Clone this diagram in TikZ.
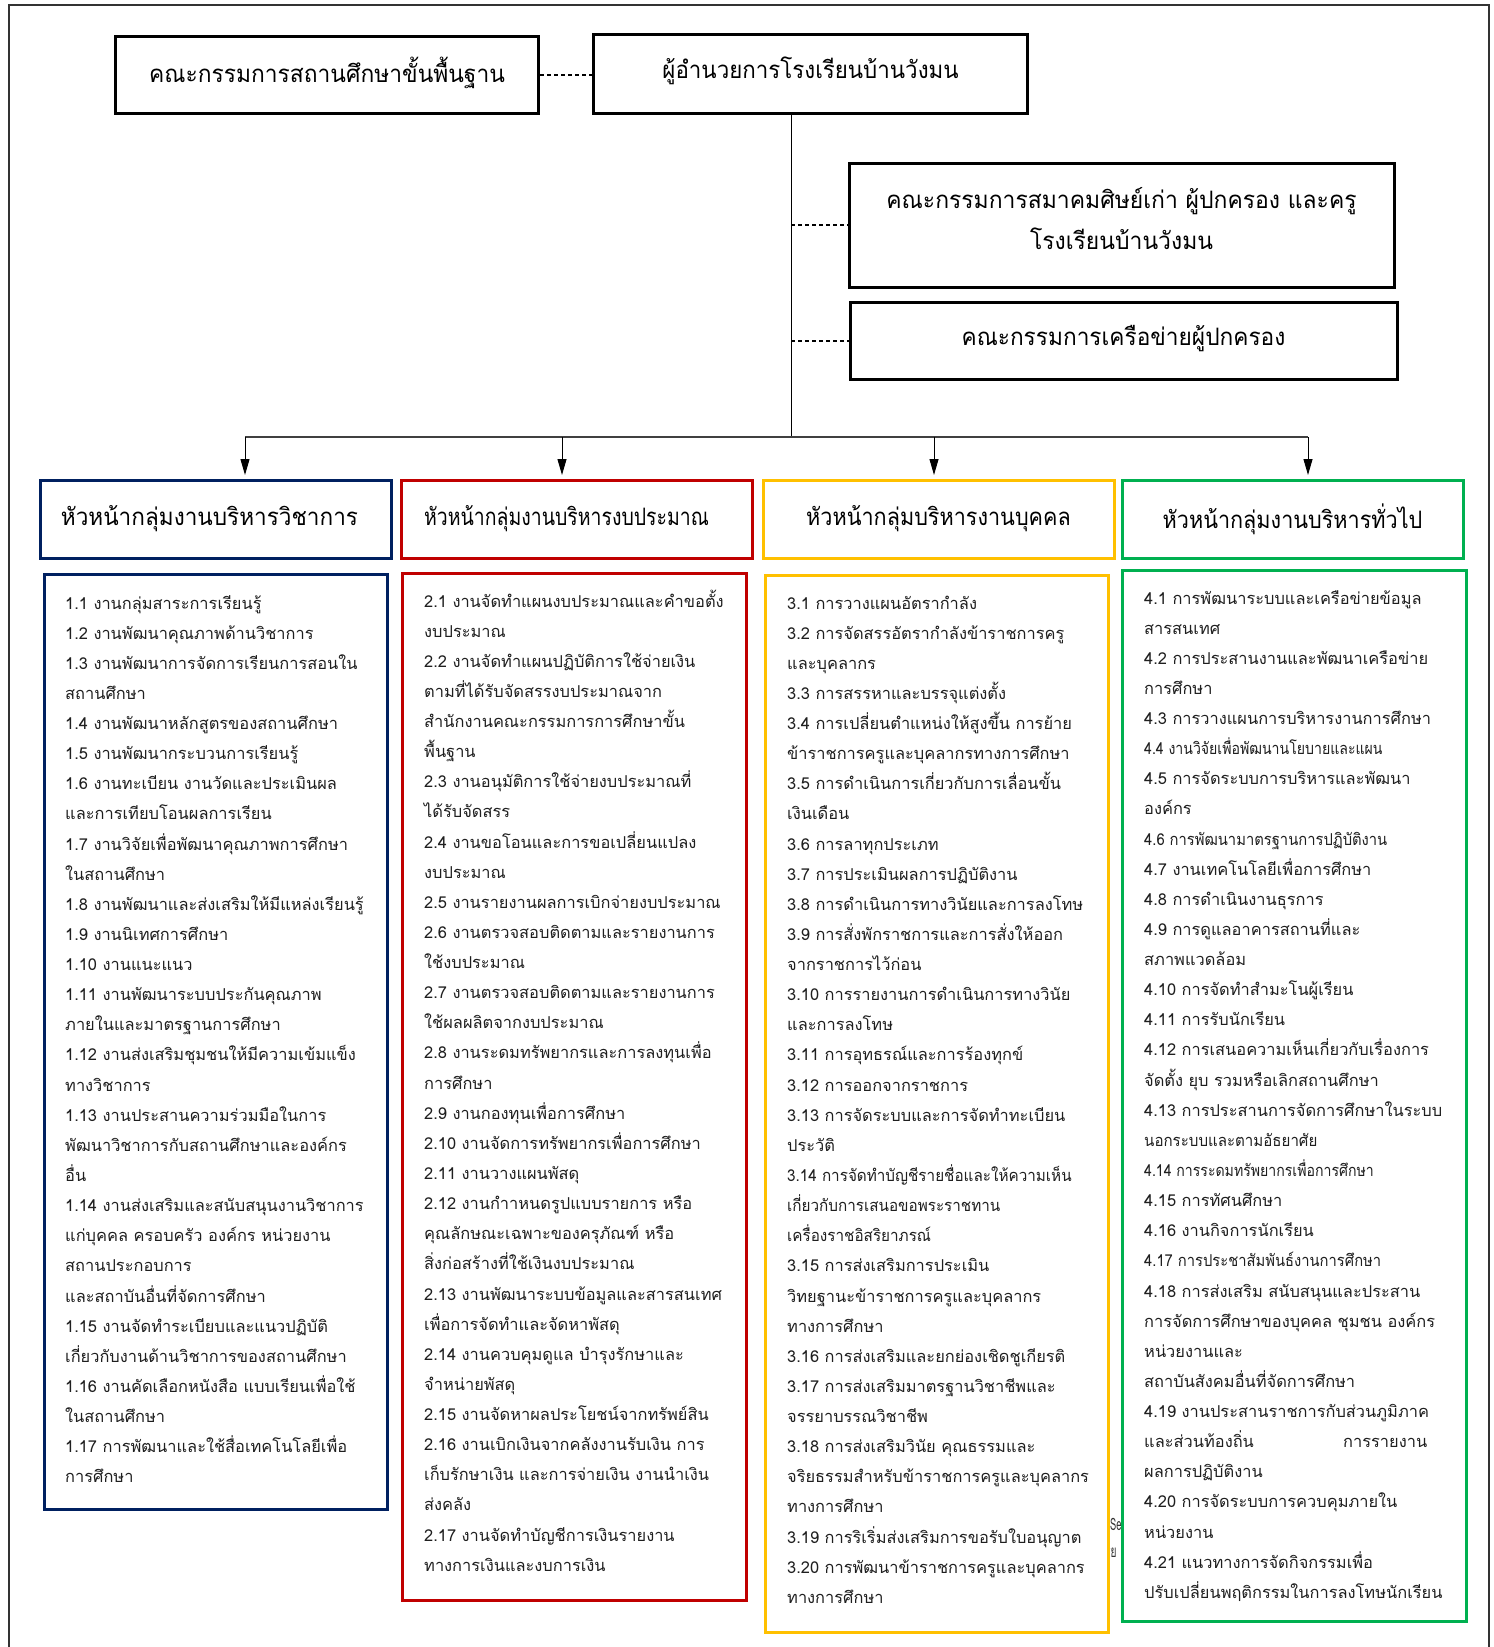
\documentclass[tikz,border=0pt]{standalone}
\usepackage{graphicx}
\usepackage{fontspec}
\newfontfamily\thai[Script=Thai]{Loma}
\usetikzlibrary{arrows.meta}
\definecolor{navy}{HTML}{002060}
\definecolor{redc}{HTML}{C00000}
\definecolor{gold}{HTML}{FFC000}
\definecolor{greenc}{HTML}{00B050}
\newcommand\hs[2]{\scalebox{#1}[1]{#2}}
\newcommand\listcol[4]{\foreach \t [count=\i] in {#4} {\node[item] (#1\i) at (#2,{#3+(\i-1)*30.13}) {\t};}}
\begin{document}
\begin{tikzpicture}[x=1pt,y=-1pt,
  topbox/.style={draw, line width=3pt, inner sep=0},
  toptext/.style={inner sep=0, align=center, font=\thai\fontsize{24}{41}\selectfont},
  hdbox/.style={draw, line width=3pt, inner sep=0, minimum width=351pt, minimum height=78pt, font=\thai\fontsize{24}{30}\selectfont},
  listbox/.style={draw, line width=3pt, inner sep=0, fill=white},
  item/.style={anchor=base west, inner sep=0, font=\thai\fontsize{16.4}{22}\selectfont, text=black!88},
  frag/.style={anchor=base west, inner sep=0, font=\thai\fontsize{17}{22}\selectfont, text=black!80},
  dashline/.style={dash pattern=on 4pt off 3pt, line width=1.3pt},
  arr/.style={-{Triangle[length=16pt,width=9pt]}, line width=1pt, shorten >=3.5pt},
]
\useasboundingbox (0,0) rectangle (1494,1647);
\fill[white] (0,0) rectangle (1494,1647);
\draw[line width=2pt, black!80] (8.5,1647) -- (8.5,5) -- (1489,5) -- (1489,1647);

% top boxes
\node[topbox, minimum width=423pt, minimum height=77pt] (A) at (327,75) {};
\node[toptext] (At) at (327,73) {\hs{0.95}{คณะกรรมการสถานศึกษาขั้นพื้นฐาน}};
\node[topbox, minimum width=434pt, minimum height=79pt] (B) at (810.5,74) {};
\node[toptext] (Bt) at (810.5,71) {\hs{0.93}{ผู้อำนวยการโรงเรียนบ้านวังมน}};
\node[topbox, minimum width=545pt, minimum height=124pt] (C) at (1121.5,225) {};
\node[toptext] (Ct) at (1121.5,219) {\hs{0.955}{คณะกรรมการสมาคมศิษย์เก่า ผู้ปกครอง และครู}\\\hs{0.955}{โรงเรียนบ้านวังมน}};
\node[topbox, minimum width=547pt, minimum height=77pt] (D) at (1123.5,341) {};
\node[toptext] (Dt) at (1123.5,339) {\hs{0.945}{คณะกรรมการเครือข่ายผู้ปกครอง}};

% headers
\node[hdbox, draw=navy] (H1) at (215.5,519) {\hspace*{-12pt}\hs{0.94}{หัวหน้ากลุ่มงานบริหารวิชาการ}};
\node[hdbox, draw=redc] (H2) at (576.5,519) {\hspace*{-20pt}\hs{0.81}{หัวหน้ากลุ่มงานบริหารงบประมาณ}};
\node[hdbox, draw=gold] (H3) at (938.5,519) {\hs{0.90}{หัวหน้ากลุ่มบริหารงานบุคคล}};
\node[hdbox, draw=greenc, minimum width=341pt] (H4) at (1292.5,519) {\hs{0.90}{หัวหน้ากลุ่มงานบริหารทั่วไป}};

% connectors
\coordinate (J) at (791,437);
\coordinate (J1) at (245,437);
\coordinate (J2) at (562,437);
\coordinate (J3) at (934,437);
\coordinate (J4) at (1308,437);
\draw[dashline] (A.east) -- (B.west |- A.east);
\draw[line width=1pt] (B.south -| J) -- (J);
\draw[dashline] (C.west -| J) -- (C.west);
\draw[dashline] (D.west -| J) -- (D.west);
\draw[line width=1.8pt, black!75] (J1) -- (J4);
\draw[arr] (J1) -- (J1 |- H1.north);
\draw[arr] (J2) -- (J2 |- H2.north);
\draw[arr] (J3) -- (J3 |- H3.north);
\draw[arr] (J4) -- (J4 |- H4.north);

% partly hidden stray text fragments (behind the list boxes)
\node[frag] (f1) at (1110,1530) {\hs{0.55}{Se}};
\node[frag] (f2) at (1105,1557) {\hs{0.6}{รีย}};

% list boxes
\node[listbox, draw=navy, minimum width=343pt, minimum height=935pt] (K1) at (215.5,1041.5) {};
\node[listbox, draw=redc, minimum width=344pt, minimum height=1027pt] (K2) at (574,1086.5) {};
\node[listbox, draw=gold, minimum width=343pt, minimum height=1057pt] (K3) at (936.5,1103.5) {};
\node[listbox, draw=greenc, minimum width=344pt, minimum height=1051pt] (K4) at (1294,1095.5) {};

\listcol{a}{65}{609}{
1.1 งานกลุ่มสาระการเรียนรู้,
1.2 งานพัฒนาคุณภาพด้านวิชาการ,
1.3 งานพัฒนาการจัดการเรียนการสอนใน,
สถานศึกษา,
1.4 งานพัฒนาหลักสูตรของสถานศึกษา,
1.5 งานพัฒนากระบวนการเรียนรู้,
1.6 งานทะเบียน งานวัดและประเมินผล,
และการเทียบโอนผลการเรียน,
1.7 งานวิจัยเพื่อพัฒนาคุณภาพการศึกษา,
ในสถานศึกษา,
1.8 งานพัฒนาและส่งเสริมให้มีแหล่งเรียนรู้,
1.9 งานนิเทศการศึกษา,
1.10 งานแนะแนว,
1.11 งานพัฒนาระบบประกันคุณภาพ,
ภายในและมาตรฐานการศึกษา,
1.12 งานส่งเสริมชุมชนให้มีความเข้มแข็ง,
ทางวิชาการ,
1.13 งานประสานความร่วมมือในการ,
พัฒนาวิชาการกับสถานศึกษาและองค์กร,
อื่น,
1.14 งานส่งเสริมและสนับสนุนงานวิชาการ,
แก่บุคคล ครอบครัว องค์กร หน่วยงาน,
สถานประกอบการ,
และสถาบันอื่นที่จัดการศึกษา,
1.15 งานจัดทำระเบียบและแนวปฏิบัติ,
เกี่ยวกับงานด้านวิชาการของสถานศึกษา,
1.16 งานคัดเลือกหนังสือ แบบเรียนเพื่อใช้,
ในสถานศึกษา,
1.17 การพัฒนาและใช้สื่อเทคโนโลยีเพื่อ,
การศึกษา}

\listcol{b}{424}{607}{
2.1 งานจัดทำแผนงบประมาณและคำขอตั้ง,
งบประมาณ,
2.2 งานจัดทำแผนปฏิบัติการใช้จ่ายเงิน,
ตามที่ได้รับจัดสรรงบประมาณจาก,
สำนักงานคณะกรรมการการศึกษาขั้น,
พื้นฐาน,
2.3 งานอนุมัติการใช้จ่ายงบประมาณที่,
ได้รับจัดสรร,
2.4 งานขอโอนและการขอเปลี่ยนแปลง,
งบประมาณ,
2.5 งานรายงานผลการเบิกจ่ายงบประมาณ,
2.6 งานตรวจสอบติดตามและรายงานการ,
ใช้งบประมาณ,
2.7 งานตรวจสอบติดตามและรายงานการ,
ใช้ผลผลิตจากงบประมาณ,
2.8 งานระดมทรัพยากรและการลงทุนเพื่อ,
การศึกษา,
2.9 งานกองทุนเพื่อการศึกษา,
2.10 งานจัดการทรัพยากรเพื่อการศึกษา,
2.11 งานวางแผนพัสดุ,
2.12 งานกำาหนดรูปแบบรายการ หรือ,
คุณลักษณะเฉพาะของครุภัณฑ์ หรือ,
สิ่งก่อสร้างที่ใช้เงินงบประมาณ,
2.13 งานพัฒนาระบบข้อมูลและสารสนเทศ,
เพื่อการจัดทำและจัดหาพัสดุ,
2.14 งานควบคุมดูแล บำรุงรักษาและ,
จำหน่ายพัสดุ,
2.15 งานจัดหาผลประโยชน์จากทรัพย์สิน,
2.16 งานเบิกเงินจากคลังงานรับเงิน การ,
เก็บรักษาเงิน และการจ่ายเงิน งานนำเงิน,
ส่งคลัง,
2.17 งานจัดทำบัญชีการเงินรายงาน,
ทางการเงินและงบการเงิน}

\listcol{c}{787}{609}{
3.1 การวางแผนอัตรากำลัง,
3.2 การจัดสรรอัตรากำลังข้าราชการครู,
และบุคลากร,
3.3 การสรรหาและบรรจุแต่งตั้ง,
3.4 การเปลี่ยนตำแหน่งให้สูงขึ้น การย้าย,
ข้าราชการครูและบุคลากรทางการศึกษา,
3.5 การดำเนินการเกี่ยวกับการเลื่อนขั้น,
เงินเดือน,
3.6 การลาทุกประเภท,
3.7 การประเมินผลการปฏิบัติงาน,
3.8 การดำเนินการทางวินัยและการลงโทษ,
3.9 การสั่งพักราชการและการสั่งให้ออก,
จากราชการไว้ก่อน,
3.10 การรายงานการดำเนินการทางวินัย,
และการลงโทษ,
3.11 การอุทธรณ์และการร้องทุกข์,
3.12 การออกจากราชการ,
3.13 การจัดระบบและการจัดทำทะเบียน,
ประวัติ,
{\hs{0.93}{3.14 การจัดทำบัญชีรายชื่อและให้ความเห็น}},
{\hs{0.93}{เกี่ยวกับการเสนอขอพระราชทาน}},
{\hs{0.93}{เครื่องราชอิสริยาภรณ์}},
3.15 การส่งเสริมการประเมิน,
วิทยฐานะข้าราชการครูและบุคลากร,
ทางการศึกษา,
3.16 การส่งเสริมและยกย่องเชิดชูเกียรติ,
3.17 การส่งเสริมมาตรฐานวิชาชีพและ,
จรรยาบรรณวิชาชีพ,
3.18 การส่งเสริมวินัย คุณธรรมและ,
จริยธรรมสำหรับข้าราชการครูและบุคลากร,
ทางการศึกษา,
3.19 การริเริ่มส่งเสริมการขอรับใบอนุญาต,
3.20 การพัฒนาข้าราชการครูและบุคลากร,
ทางการศึกษา}

\listcol{d}{1144}{604}{
4.1 การพัฒนาระบบและเครือข่ายข้อมูล,
สารสนเทศ,
4.2 การประสานงานและพัฒนาเครือข่าย,
การศึกษา,
4.3 การวางแผนการบริหารงานการศึกษา,
{\hs{0.86}{4.4 งานวิจัยเพื่อพัฒนานโยบายและแผน}},
4.5 การจัดระบบการบริหารและพัฒนา,
องค์กร,
{\hs{0.90}{4.6 การพัฒนามาตรฐานการปฏิบัติงาน}},
4.7 งานเทคโนโลยีเพื่อการศึกษา,
4.8 การดำเนินงานธุรการ,
4.9 การดูแลอาคารสถานที่และ,
สภาพแวดล้อม,
4.10 การจัดทำสำมะโนผู้เรียน,
4.11 การรับนักเรียน,
4.12 การเสนอความเห็นเกี่ยวกับเรื่องการ,
จัดตั้ง ยุบ รวมหรือเลิกสถานศึกษา,
4.13 การประสานการจัดการศึกษาในระบบ,
{\hs{0.92}{นอกระบบและตามอัธยาศัย}},
{\hs{0.86}{4.14 การระดมทรัพยากรเพื่อการศึกษา}},
4.15 การทัศนศึกษา,
4.16 งานกิจการนักเรียน,
{\hs{0.90}{4.17 การประชาสัมพันธ์งานการศึกษา}},
4.18 การส่งเสริม สนับสนุนและประสาน,
การจัดการศึกษาของบุคคล ชุมชน องค์กร,
หน่วยงานและ,
สถาบันสังคมอื่นที่จัดการศึกษา,
4.19 งานประสานราชการกับส่วนภูมิภาค,
{\hbox to 283pt{และส่วนท้องถิ่น\hfill การรายงาน}},
ผลการปฏิบัติงาน,
4.20 การจัดระบบการควบคุมภายใน,
หน่วยงาน,
4.21 แนวทางการจัดกิจกรรมเพื่อ,
ปรับเปลี่ยนพฤติกรรมในการลงโทษนักเรียน}
\end{tikzpicture}
\end{document}
